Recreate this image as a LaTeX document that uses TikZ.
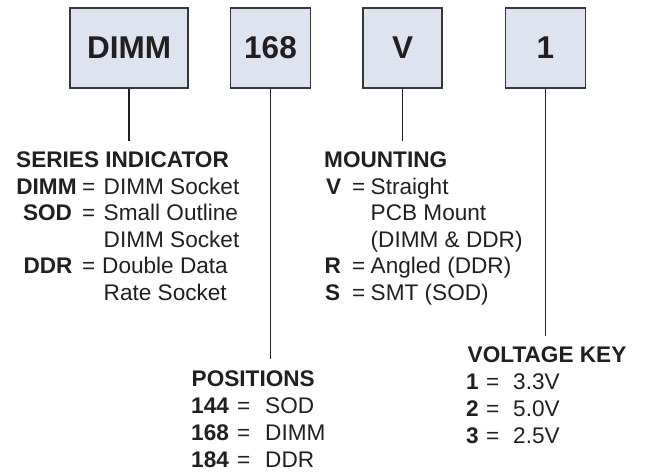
\documentclass[tikz,border=0pt]{standalone}
\usepackage{fontspec}
\setmainfont{Liberation Sans}
\definecolor{boxfill}{RGB}{221,228,240}
\definecolor{boxline}{RGB}{55,55,55}
\definecolor{ink}{RGB}{35,31,32}
\begin{document}
\begin{tikzpicture}[x=1pt,y=-1pt,
  codebox/.style={draw=boxline,line width=1.2pt,fill=boxfill,minimum height=80pt,inner sep=0pt,
    text=ink,font=\fontsize{31.5}{31.5}\selectfont\bfseries},
  link/.style={draw=ink,line width=1.9pt},
  txt/.style={inner sep=0pt,anchor=base west,text=ink,font=\fontsize{22.6}{26}\selectfont},
  btxt/.style={txt,font=\fontsize{22.6}{26}\selectfont\bfseries},
  ctxt/.style={btxt,anchor=base}]
\useasboundingbox (0,0) rectangle (647,471);
% boxes
\node[codebox,minimum width=118pt] (bdimm) at (129,48) {DIMM};
\node[codebox,minimum width=80pt] (b168) at (270.5,48) {168};
\node[codebox,minimum width=79pt] (bv) at (402.5,48) {V};
\node[codebox,minimum width=80pt] (bone) at (545.5,48) {1};
% connector ends
\coordinate (e1) at (129,141);
\coordinate (e2) at (270.5,359);
\coordinate (e3) at (402.5,141);
\coordinate (e4) at (545.5,336);
\draw[link] (bdimm.south) -- (e1);
\draw[link] (b168.south) -- (e2);
\draw[link] (bv.south) -- (e3);
\draw[link] (bone.south) -- (e4);
% series indicator
\node[btxt] (sh) at (16,167) {SERIES INDICATOR};
\node[ctxt] (s1l) at (46.5,194) {DIMM};
\node[txt] (s1e) at (82,194) {=};
\node[txt] (s1t) at (103.5,194) {DIMM Socket};
\node[ctxt] (s2l) at (47.5,220.5) {SOD};
\node[txt] (s2e) at (82,220.5) {=};
\node[txt] (s2t) at (103.5,220.5) {Small Outline};
\node[txt] (s3t) at (103.5,247) {DIMM Socket};
\node[ctxt] (s4l) at (48,273.5) {DDR};
\node[txt] (s4e) at (82,273.5) {=};
\node[txt] (s4t) at (102,273.5) {Double Data};
\node[txt] (s5t) at (103.5,300) {Rate Socket};
% mounting
\node[btxt] (mh) at (324,167) {MOUNTING};
\node[btxt] (m1l) at (326,194) {V};
\node[txt] (m1e) at (352,194) {=};
\node[txt] (m1t) at (370.5,194) {Straight};
\node[txt] (m2t) at (370.5,220.5) {PCB Mount};
\node[txt] (m3t) at (370.5,247) {(DIMM \& DDR)};
\node[btxt] (m4l) at (324.5,273.5) {R};
\node[txt] (m4e) at (352,273.5) {=};
\node[txt] (m4t) at (370.5,273.5) {Angled (DDR)};
\node[btxt] (m5l) at (325,300) {S};
\node[txt] (m5e) at (352,300) {=};
\node[txt] (m5t) at (370.5,300) {SMT (SOD)};
% positions
\node[btxt] (ph) at (191.5,386) {POSITIONS};
\node[btxt] (p1l) at (191,413.5) {144};
\node[txt] (p1e) at (237,413.5) {=};
\node[txt] (p1t) at (265,413.5) {SOD};
\node[btxt] (p2l) at (191,440.5) {168};
\node[txt] (p2e) at (237,440.5) {=};
\node[txt] (p2t) at (265,440.5) {DIMM};
\node[btxt] (p3l) at (191,467.5) {184};
\node[txt] (p3e) at (237,467.5) {=};
\node[txt] (p3t) at (265,467.5) {DDR};
% voltage key
\node[btxt] (vh) at (467.5,362) {VOLTAGE KEY};
\node[btxt] (v1l) at (466,389) {1};
\node[txt] (v1e) at (486,389) {=};
\node[txt] (v1t) at (513,389) {3.3V};
\node[btxt] (v2l) at (466,416) {2};
\node[txt] (v2e) at (486,416) {=};
\node[txt] (v2t) at (513,416) {5.0V};
\node[btxt] (v3l) at (466,443) {3};
\node[txt] (v3e) at (486,443) {=};
\node[txt] (v3t) at (513,443) {2.5V};
\end{tikzpicture}
\end{document}
